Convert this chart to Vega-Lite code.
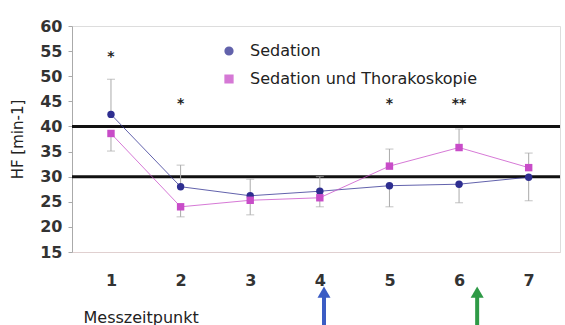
{
  "$schema": "https://vega.github.io/schema/vega-lite/v6.json",
  "width": 488,
  "height": 226,
  "autosize": {"type": "none"},
  "padding": {"left": 72, "top": 26, "right": 5, "bottom": 73},
  "background": "white",
  "config": {
    "view": {"stroke": "#dddddd"},
    "font": "DejaVu Sans",
    "axis": {"labelColor": "#333333", "titleColor": "#222222", "labelFontSize": 16, "labelFontWeight": "bold", "grid": false, "labelOverlap": false, "labelSeparation": 0},
    "axisY": {"labelOverlap": false, "labelSeparation": 0, "tickCount": 10},
    "legend": {"orient": "none", "legendX": 149, "legendY": 17, "labelFontSize": 16, "labelColor": "#222222",
      "rowPadding": 12, "labelOffset": 13, "symbolSize": 60, "padding": 0, "labelLimit": 400}
  },
  "datasets": {
    "series": [
      {"t": 1, "group": "Sedation", "hf": 42.4},
      {"t": 2, "group": "Sedation", "hf": 28.0},
      {"t": 3, "group": "Sedation", "hf": 26.2},
      {"t": 4, "group": "Sedation", "hf": 27.1},
      {"t": 5, "group": "Sedation", "hf": 28.2},
      {"t": 6, "group": "Sedation", "hf": 28.5},
      {"t": 7, "group": "Sedation", "hf": 29.9},
      {"t": 1, "group": "Sedation und Thorakoskopie", "hf": 38.6},
      {"t": 2, "group": "Sedation und Thorakoskopie", "hf": 24.0},
      {"t": 3, "group": "Sedation und Thorakoskopie", "hf": 25.3},
      {"t": 4, "group": "Sedation und Thorakoskopie", "hf": 25.8},
      {"t": 5, "group": "Sedation und Thorakoskopie", "hf": 32.1},
      {"t": 6, "group": "Sedation und Thorakoskopie", "hf": 35.8},
      {"t": 7, "group": "Sedation und Thorakoskopie", "hf": 31.8}
    ],
    "errors": [
      {"t": 1, "from": 42.4, "to": 49.4},
      {"t": 1, "from": 38.6, "to": 35.1},
      {"t": 2, "from": 28.0, "to": 32.3},
      {"t": 2, "from": 24.0, "to": 22.0},
      {"t": 3, "from": 26.2, "to": 29.5},
      {"t": 3, "from": 25.3, "to": 22.4},
      {"t": 4, "from": 27.1, "to": 30.0},
      {"t": 4, "from": 25.8, "to": 24.0},
      {"t": 5, "from": 32.1, "to": 35.5},
      {"t": 5, "from": 28.2, "to": 24.0},
      {"t": 6, "from": 35.8, "to": 39.5},
      {"t": 6, "from": 28.5, "to": 24.8},
      {"t": 7, "from": 31.8, "to": 34.7},
      {"t": 7, "from": 29.9, "to": 25.2}
    ],
    "stars": [
      {"t": 1, "y": 54.4, "label": "*"},
      {"t": 2, "y": 45.0, "label": "*"},
      {"t": 5, "y": 45.0, "label": "*"},
      {"t": 6, "y": 45.0, "label": "**"}
    ],
    "refs": [{"y": 40}, {"y": 30}],
    "arrows": [
      {"x": 4.06, "y": 0, "y2": 6.3, "head": 7.0, "c": "blue"},
      {"x": 6.26, "y": 0, "y2": 6.3, "head": 7.0, "c": "green"}
    ]
  },
  "layer": [
    {
      "data": {"name": "refs"},
      "mark": {"type": "rule", "color": "#111111", "strokeWidth": 3},
      "encoding": {"y": {"field": "y", "type": "quantitative",
        "scale": {"domain": [15, 60], "nice": false, "zero": false},
        "axis": {"values": [15, 20, 25, 30, 35, 40, 45, 50, 55, 60], "tickCount": 10, "labelOverlap": false, "title": "HF [min-1]", "tickSize": 4, "tickColor": "#aaaaaa", "domainColor": "#aaaaaa",
            "labelPadding": 6, "titleFontSize": 15, "titleFontWeight": "normal", "titlePadding": 14}}}
    },
    {
      "data": {"name": "errors"},
      "mark": {"type": "rule", "color": "#aaaaaa", "strokeWidth": 1},
      "encoding": {
        "x": {"field": "t", "type": "quantitative"},
        "y": {"field": "from", "type": "quantitative"},
        "y2": {"field": "to"}
      }
    },
    {
      "data": {"name": "errors"},
      "mark": {"type": "tick", "orient": "horizontal", "color": "#aaaaaa", "size": 8, "thickness": 1},
      "encoding": {
        "x": {"field": "t", "type": "quantitative"},
        "y": {"field": "to", "type": "quantitative"}
      }
    },
    {
      "data": {"name": "series"},
      "mark": {"type": "line", "strokeWidth": 1, "opacity": 0.75},
      "encoding": {
        "x": {"field": "t", "type": "quantitative"},
        "y": {"field": "hf", "type": "quantitative"},
        "color": {"field": "group", "type": "nominal", "title": null,
          "scale": {"domain": ["Sedation", "Sedation und Thorakoskopie"], "range": ["#2e2e90", "#c84cc8"]}}
      }
    },
    {
      "data": {"name": "series"},
      "mark": {"type": "point", "filled": true, "size": 55, "opacity": 1},
      "encoding": {
        "x": {"field": "t", "type": "quantitative",
          "scale": {"domain": [0.44, 7.45], "nice": false, "zero": false},
          "axis": {"values": [1, 2, 3, 4, 5, 6, 7], "format": "d", "title": "Messzeitpunkt", "ticks": false, "domainColor": "#e0d0d0",
            "labelPadding": 20, "titleAnchor": "start", "titleAlign": "left", "titleX": 11, "titleY": 70,
            "titleFontSize": 16, "titleFontWeight": "normal", "titleBaseline": "alphabetic"}},
        "y": {"field": "hf", "type": "quantitative",
          "scale": {"domain": [15, 60], "nice": false, "zero": false},
          "axis": {"values": [15, 20, 25, 30, 35, 40, 45, 50, 55, 60], "tickCount": 10, "labelOverlap": false, "title": "HF [min-1]", "tickSize": 4, "tickColor": "#aaaaaa", "domainColor": "#aaaaaa",
            "labelPadding": 6, "titleFontSize": 15, "titleFontWeight": "normal", "titlePadding": 14}},
        "color": {"field": "group", "type": "nominal", "title": null,
          "scale": {"domain": ["Sedation", "Sedation und Thorakoskopie"], "range": ["#2e2e90", "#c84cc8"]}},
        "shape": {"field": "group", "type": "nominal", "title": null,
          "scale": {"domain": ["Sedation", "Sedation und Thorakoskopie"], "range": ["circle", "square"]}}
      }
    },
    {
      "data": {"name": "stars"},
      "mark": {"type": "text", "fontSize": 14, "fontWeight": "bold", "color": "#222222", "baseline": "middle", "dy": 3},
      "encoding": {
        "x": {"field": "t", "type": "quantitative"},
        "y": {"field": "y", "type": "quantitative"},
        "text": {"field": "label"}
      }
    },
    {
      "data": {"name": "arrows"},
      "mark": {"type": "rule", "strokeWidth": 4},
      "encoding": {
        "x": {"field": "x", "type": "quantitative"},
        "y": {"field": "y", "type": "quantitative"},
        "y2": {"field": "y2"},
        "stroke": {"field": "c", "type": "nominal", "legend": null, "scale": {"domain": ["blue", "green"], "range": ["#3b5cc4", "#2e9a46"]}}
      }
    },
    {
      "data": {"name": "arrows"},
      "mark": {"type": "point", "shape": "triangle-up", "filled": true, "size": 170, "opacity": 1},
      "encoding": {
        "x": {"field": "x", "type": "quantitative"},
        "y": {"field": "head", "type": "quantitative"},
        "fill": {"field": "c", "type": "nominal", "legend": null, "scale": {"domain": ["blue", "green"], "range": ["#3b5cc4", "#2e9a46"]}}
      }
    }
  ]
}
